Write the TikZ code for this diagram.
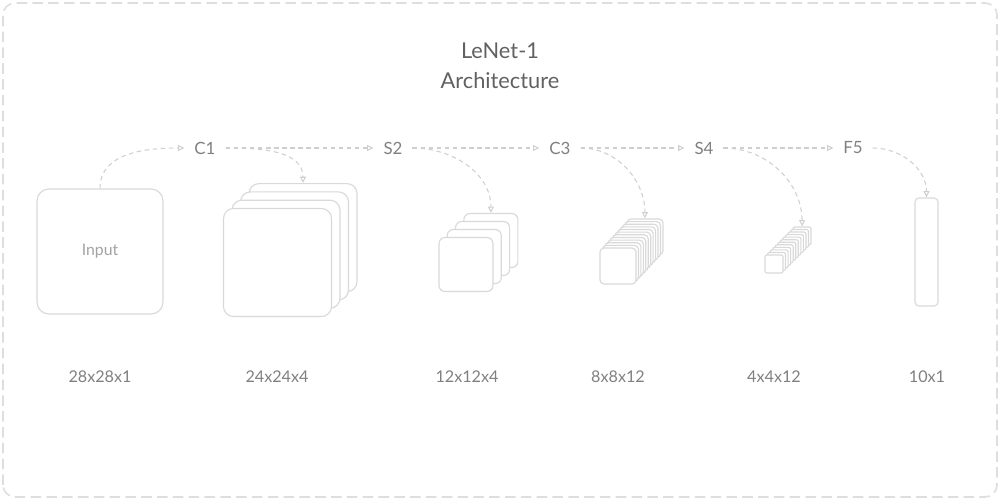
\documentclass[tikz,border=0pt]{standalone}
\usepackage{fontspec}
\setmainfont{Lato}
\usetikzlibrary{arrows.meta}
\definecolor{framegray}{HTML}{DEDEDE}
\definecolor{boxgray}{HTML}{D9D9D9}
\definecolor{arrowgray}{HTML}{CFCFCF}
\definecolor{titlegray}{HTML}{616161}
\definecolor{labelgray}{HTML}{808080}
\begin{document}
\begin{tikzpicture}[x=0.2mm, y=0.2mm,
    map/.style={draw=boxgray, fill=white, line width=0.65pt, inner sep=0pt},
    layer/.style={font=\fontsize{9.6}{11}\selectfont, text=labelgray, inner sep=5.5pt},
    dims/.style={font=\fontsize{9.2}{11}\selectfont, text=labelgray},
    flow/.style={draw=arrowgray, line width=0.6pt, dash pattern=on 2.6pt off 2pt, -{Triangle[open, length=3.6pt, width=3.4pt]}}]
    \useasboundingbox (0,0) rectangle (1000,500);
    \draw[framegray, line width=0.9pt, dash pattern=on 6pt off 3pt, rounded corners=2.4mm] (3,3) rectangle (997,497);

    \node[font=\fontsize{12.4}{14}\selectfont, text=titlegray] (title) at (500,449) {LeNet-1};
    \node[font=\fontsize{12.4}{14}\selectfont, text=titlegray] (subtitle) at (500,419) {Architecture};

    % layer names
    \node[layer] (C1) at (205,352) {C1};
    \node[layer] (S2) at (393,352) {S2};
    \node[layer] (C3) at (560,352) {C3};
    \node[layer] (S4) at (704,352) {S4};
    \node[layer] (F5) at (853,352) {F5};

    % feature maps
    \node[map, minimum width=25.2mm, minimum height=25mm, rounded corners=2.4mm, font=\fontsize{9}{11}\selectfont, text=boxgray!75!black] (in) at (100,248.5) {Input};
    \foreach \k in {3,2,1,0}
        \node[map, minimum size=21.6mm, rounded corners=2mm] (c1-\k) at ({277.5+8.5*\k},{237.5+8.3*\k}) {};
    \foreach \k in {3,2,1,0}
        \node[map, minimum size=10.8mm, rounded corners=1.2mm] (s2-\k) at ({466+8.3*\k},{235.5+8*\k}) {};
    \foreach \k in {11,10,...,0}
        \node[map, minimum size=7.2mm, rounded corners=0.8mm] (c3-\k) at ({618+2.45*\k},{234+2.64*\k}) {};
    \foreach \k in {11,10,...,0}
        \node[map, minimum size=3.6mm, rounded corners=0.4mm] (s4-\k) at ({774+2.55*\k},{236+2.55*\k}) {};
    \node[map, minimum width=4.6mm, minimum height=21.6mm, rounded corners=0.8mm] (f5) at (926.5,248) {};

    % sizes
    \node[dims] (d-in) at (100,123) {28x28x1};
    \node[dims] (d-c1) at (277,123) {24x24x4};
    \node[dims] (d-s2) at (467,123) {12x12x4};
    \node[dims] (d-c3) at (618,123) {8x8x12};
    \node[dims] (d-s4) at (774,123) {4x4x12};
    \node[dims] (d-f5) at (927,123) {10x1};

    % connections
    \draw[flow] (in.north) to[out=90, in=180] (C1.west);
    \draw[flow] (C1.east) -- (S2.west);
    \draw[flow] (S2.east) -- (C3.west);
    \draw[flow] (C3.east) -- (S4.west);
    \draw[flow] (S4.east) -- (F5.west);
    \draw[flow] (C1.east) to[out=0, in=90] (c1-3.north);
    \draw[flow] (S2.east) to[out=0, in=90] (s2-3.north);
    \draw[flow] (C3.east) to[out=0, in=90] (c3-11.north);
    \draw[flow] (S4.east) to[out=0, in=90] (s4-11.north);
    \draw[flow] (F5.east) to[out=0, in=90] (f5.north);
\end{tikzpicture}
\end{document}
